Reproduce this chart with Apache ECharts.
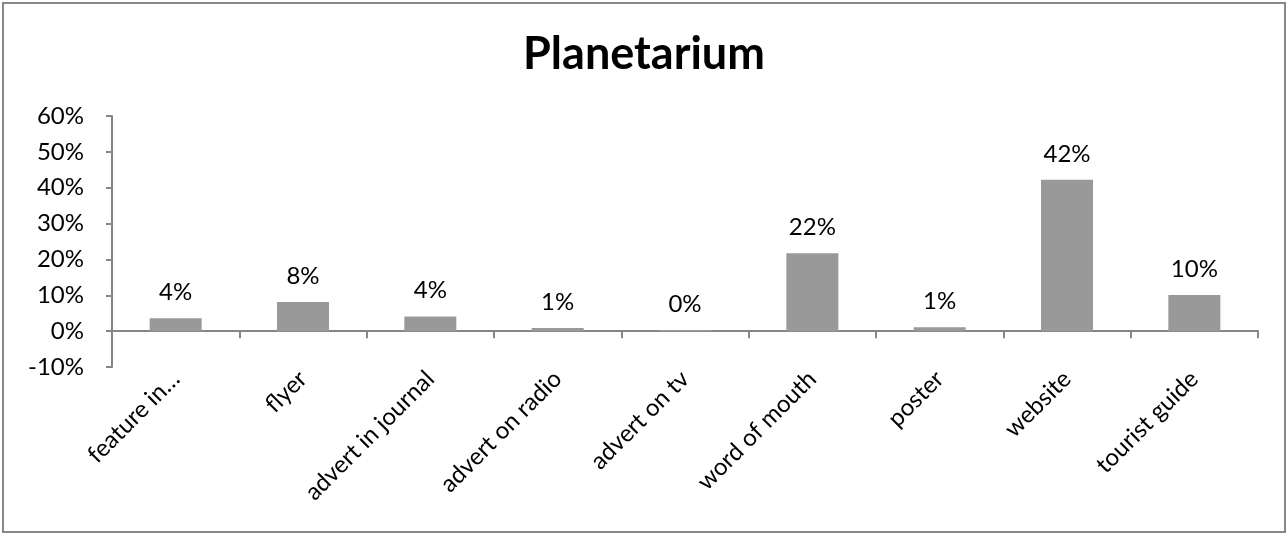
<!DOCTYPE html>
<html>
<head>
<meta charset="utf-8">
<script src="https://cdn.jsdelivr.net/npm/echarts@6/dist/echarts.min.js"></script>
<style>
html,body{margin:0;padding:0;background:#fff;}
#chart{width:1288px;height:535px;}
</style>
</head>
<body>
<div id="chart"></div>
<script>
var categories = ["feature in\u2026", "flyer", "advert in journal", "advert on radio", "advert on tv", "word of mouth", "poster", "website", "tourist guide"];
var values = [0.036, 0.081, 0.041, 0.009, 0.003, 0.217, 0.011, 0.422, 0.101];
var titleText = "Planetarium";

var FONT = "Lato";
var chart = echarts.init(document.getElementById('chart'), null, {renderer: 'canvas'});
chart.setOption({
  backgroundColor: '#ffffff',
  animation: false,
  title: {
    text: titleText,
    left: 'center',
    top: 27,
    textStyle: {fontFamily: FONT, fontWeight: 'bold', fontSize: 45, color: '#000'}
  },
  graphic: [{
    type: 'rect',
    shape: {x: 3, y: 3, width: 1282, height: 529},
    style: {fill: 'none', stroke: '#878787', lineWidth: 2},
    silent: true
  }],
  grid: {left: 112, right: 30, top: 116, bottom: 168, containLabel: false},
  xAxis: {
    type: 'category',
    data: categories,
    axisLine: {onZero: true, lineStyle: {color: '#868686', width: 2}},
    axisTick: {show: true, alignWithLabel: false, length: 7, lineStyle: {color: '#868686', width: 2}},
    axisLabel: {rotate: 45, margin: 8, interval: 0, fontFamily: FONT, fontSize: 24, color: '#000'},
    splitLine: {show: false}
  },
  yAxis: {
    type: 'value',
    min: -0.1, max: 0.6, interval: 0.1,
    axisLine: {show: true, lineStyle: {color: '#868686', width: 2}},
    axisTick: {show: true, length: 6, lineStyle: {color: '#868686', width: 2}},
    splitLine: {show: false},
    axisLabel: {
      margin: 28, fontFamily: FONT, fontSize: 24, color: '#000',
      formatter: function (v) { return Math.round(v * 100) + '%'; }
    }
  },
  series: [{
    type: 'bar',
    data: values,
    barWidth: 52,
    itemStyle: {color: '#999999'},
    label: {
      show: true, position: 'top', distance: 14,
      fontFamily: FONT, fontSize: 24, color: '#000',
      formatter: function (p) { return Math.round(p.value * 100) + '%'; }
    }
  }]
});
</script>
</body>
</html>
